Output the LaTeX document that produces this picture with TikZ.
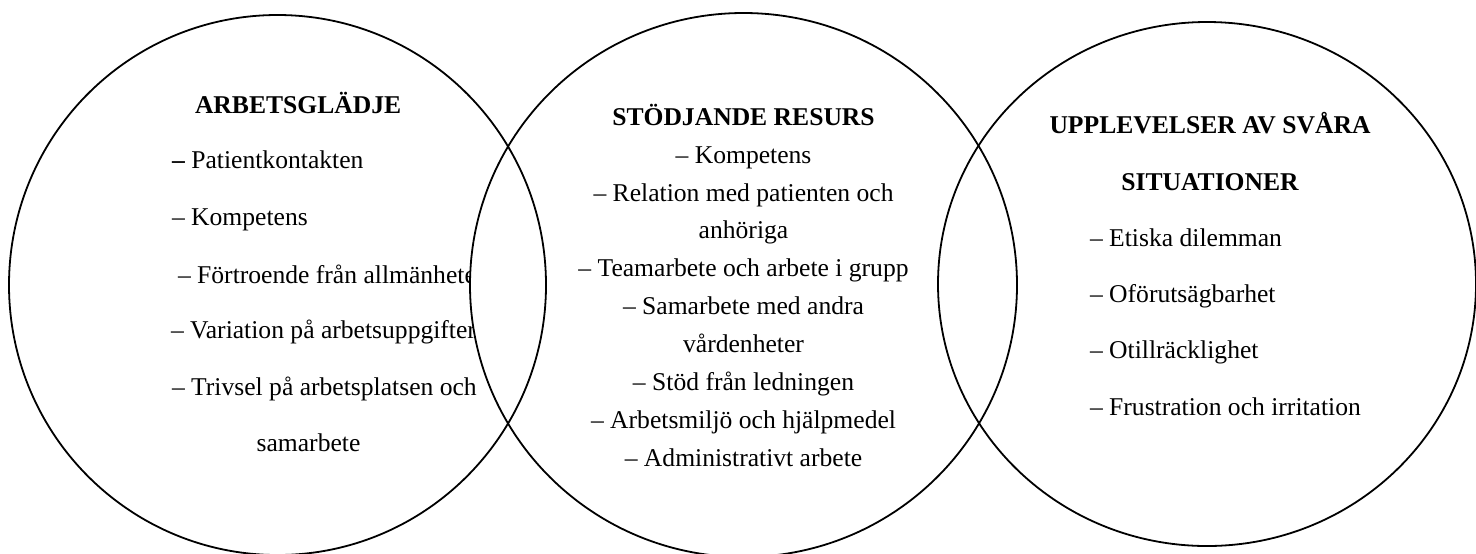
\documentclass[tikz,border=0pt]{standalone}
\usepackage{fontspec}
\setmainfont{Liberation Serif}
\tikzset{
  ring/.style={draw=black, line width=0.9pt},
  txt/.style={inner sep=0pt, outer sep=0pt, font=\fontsize{12.8}{15}\selectfont},
  head/.style={inner sep=0pt, outer sep=0pt, font=\fontsize{12.8}{15}\selectfont\bfseries},
}
\begin{document}
\begin{tikzpicture}[x=0.5pt,y=-0.5pt]
\useasboundingbox (0,0) rectangle (1476,553);
\clip (0,0) rectangle (1476,553);
% left circle text
\node[head, anchor=base west] (a0) at (195,113.5) {ARBETSGLÄDJE};
\node[txt, anchor=base west] (a1) at (172,168) {\textbf{–} Patientkontakten};
\node[txt, anchor=base west] (a2) at (172,225) {– Kompetens};
\node[txt, anchor=base west] (a3) at (178,283) {– Förtroende från allmänheten};
\node[txt, anchor=base west] (a4) at (171,338) {– Variation på arbetsuppgifter};
\node[txt, anchor=base west] (a5) at (172,395) {– Trivsel på arbetsplatsen och};
\node[txt, anchor=base] (a6) at (308.5,451) {samarbete};
% white area of the middle circle
\fill[white] (743.5,285) ellipse [x radius=273.5, y radius=272];
% circles
\draw[ring] (277.5,285) ellipse [x radius=268.5, y radius=270];
\draw[ring] (743.5,285) ellipse [x radius=273.5, y radius=272];
\draw[ring] (1207,284) ellipse [x radius=269, y radius=262];
% middle circle text
\node[head, anchor=base] (b0) at (743.5,125) {STÖDJANDE RESURS};
\node[txt, anchor=base] (b1) at (743.5,163) {– Kompetens};
\node[txt, anchor=base] (b2) at (743.5,201) {– Relation med patienten och};
\node[txt, anchor=base] (b3) at (743.5,238.5) {anhöriga};
\node[txt, anchor=base] (b4) at (743.5,276.5) {– Teamarbete och arbete i grupp};
\node[txt, anchor=base] (b5) at (743.5,314.5) {– Samarbete med andra};
\node[txt, anchor=base] (b6) at (743.5,352.5) {vårdenheter};
\node[txt, anchor=base] (b7) at (743.5,390.5) {– Stöd från ledningen};
\node[txt, anchor=base] (b8) at (743.5,428.5) {– Arbetsmiljö och hjälpmedel};
\node[txt, anchor=base] (b9) at (743.5,466.5) {– Administrativt arbete};
% right circle text
\node[head, anchor=base] (c0) at (1210,133.5) {UPPLEVELSER AV SVÅRA};
\node[head, anchor=base] (c1) at (1210,190.5) {SITUATIONER};
\node[txt, anchor=base west] (c2) at (1090,246) {– Etiska dilemman};
\node[txt, anchor=base west] (c3) at (1090,302) {– Oförutsägbarhet};
\node[txt, anchor=base west] (c4) at (1090,358) {– Otillräcklighet};
\node[txt, anchor=base west] (c5) at (1090,415) {– Frustration och irritation};
\end{tikzpicture}
\end{document}
